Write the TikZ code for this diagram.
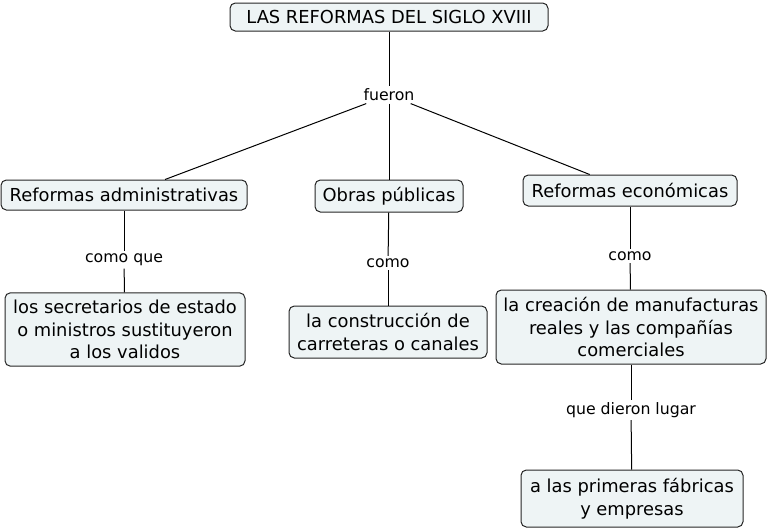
\documentclass[tikz,border=0pt]{standalone}
\usepackage{fontspec}
\setmainfont{DejaVu Sans}
\usepackage{tikz}

\definecolor{conceptfill}{RGB}{238,244,245}
\tikzset{
  concept/.style={draw=black!85,fill=conceptfill,rounded corners=4pt,align=center,
    inner sep=1pt,font=\fontsize{13.4}{17}\selectfont},
  linkword/.style={fill=white,inner sep=1.5pt,font=\fontsize{11.8}{13}\selectfont}
}

\begin{document}
\begin{tikzpicture}[x=0.75pt,y=-0.75pt,line width=0.75pt]
  \useasboundingbox (0,0) rectangle (769,529);

  \node[concept,minimum width=238.5pt,minimum height=21pt] (siglo) at (389,17) {LAS REFORMAS DEL SIGLO XVIII};
  \node[linkword] (fueron) at (389,95) {fueron};

  \node[concept,minimum width=184.5pt,minimum height=22.5pt] (admin) at (124,195) {Reformas administrativas};
  \node[concept,minimum width=111pt,minimum height=24pt] (obras) at (389,196) {Obras públicas};
  \node[concept,minimum width=160.5pt,minimum height=23.25pt] (econ) at (630,190.5) {Reformas económicas};

  \node[linkword] (comoque) at (124,260) {como que};
  \node[linkword] (como1) at (388,263) {como};
  \node[linkword] (como2) at (630,256) {como};

  \node[concept,minimum width=180pt,minimum height=55pt] (secret) at (125,329.5)
      {los secretarios de estado\\o ministros sustituyeron\\a los validos};
  \node[concept,minimum width=148.5pt,minimum height=39pt] (carret) at (388,332)
      {la construcción de\\carreteras o canales};
  \node[concept,minimum width=202.5pt,minimum height=55.5pt] (manuf) at (631,327)
      {la creación de manufacturas\\reales y las compañías\\comerciales};

  \node[linkword] (dieron) at (631,410) {que dieron lugar};
  \node[concept,minimum width=166.5pt,minimum height=42.75pt] (fabric) at (632,498.5)
      {a las primeras fábricas\\y empresas};

  \draw (siglo) -- (fueron);
  \draw (fueron) -- (admin);
  \draw (fueron) -- (obras);
  \draw (fueron) -- (econ);
  \draw (admin) -- (comoque);
  \draw (comoque) -- (secret);
  \draw (obras) -- (como1);
  \draw (como1) -- (carret);
  \draw (econ) -- (como2);
  \draw (como2) -- (manuf);
  \draw (manuf) -- (dieron);
  \draw (dieron) -- (fabric);
\end{tikzpicture}
\end{document}
